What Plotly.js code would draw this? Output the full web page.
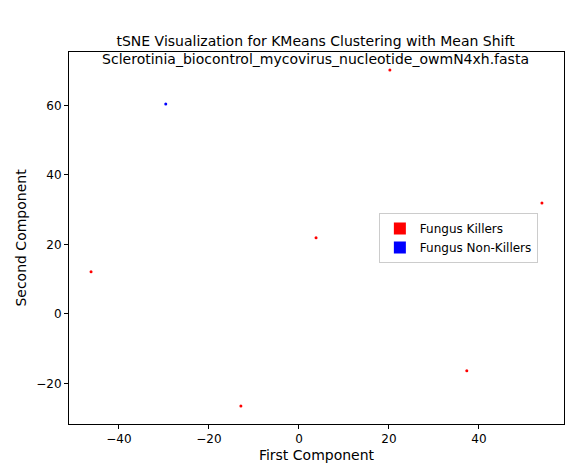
<html><head><script src="https://cdn.plot.ly/plotly-3.0.1.min.js"></script></head><body style="margin:0">
<div id="c" style="width:579px;height:476px"></div>
<script>
const killX=[20.2,54,3.8,-46.2,37.3,-12.9];
const killY=[70.2,31.9,21.9,12.1,-16.4,-26.5];
const nonX=[-29.6];
const nonY=[60.4];
const labels=["Fungus Killers","Fungus Non-Killers"];
const data=[
{x:killX,y:killY,mode:'markers',type:'scatter',marker:{color:'red',size:3},showlegend:false},
{x:nonX,y:nonY,mode:'markers',type:'scatter',marker:{color:'blue',size:3},showlegend:false},
{x:[null],y:[null],mode:'markers',type:'scatter',name:labels[0],marker:{color:'red',symbol:'square',size:12}},
{x:[null],y:[null],mode:'markers',type:'scatter',name:labels[1],marker:{color:'blue',symbol:'square',size:12}}
];
const ax={showgrid:false,zeroline:false,showline:true,mirror:true,linecolor:'black',ticks:'outside',ticklen:4,tickcolor:'black'};
const layout={
font:{family:'DejaVu Sans',size:12,color:'black'},
margin:{l:69,r:15,t:52,b:52},
title:{text:'tSNE Visualization for KMeans Clustering with Mean Shift<br>Sclerotinia_biocontrol_mycovirus_nucleotide_owmN4xh.fasta',x:0.545,xanchor:'center',yref:'paper',y:1,yanchor:'bottom',pad:{b:6},font:{size:14}},
xaxis:Object.assign({range:[-51.1,58.9],dtick:20,title:{text:'First Component',standoff:4}},ax),
yaxis:Object.assign({range:[-31.7,75.4],dtick:20,title:{text:'Second Component',standoff:6}},ax),
legend:{x:0.626,y:0.567,xanchor:'left',yanchor:'top',bgcolor:'white',bordercolor:'#ccc',borderwidth:1,font:{size:12}},
plot_bgcolor:'white',paper_bgcolor:'white'
};
Plotly.newPlot('c',data,layout,{displayModeBar:false});
</script></body></html>
